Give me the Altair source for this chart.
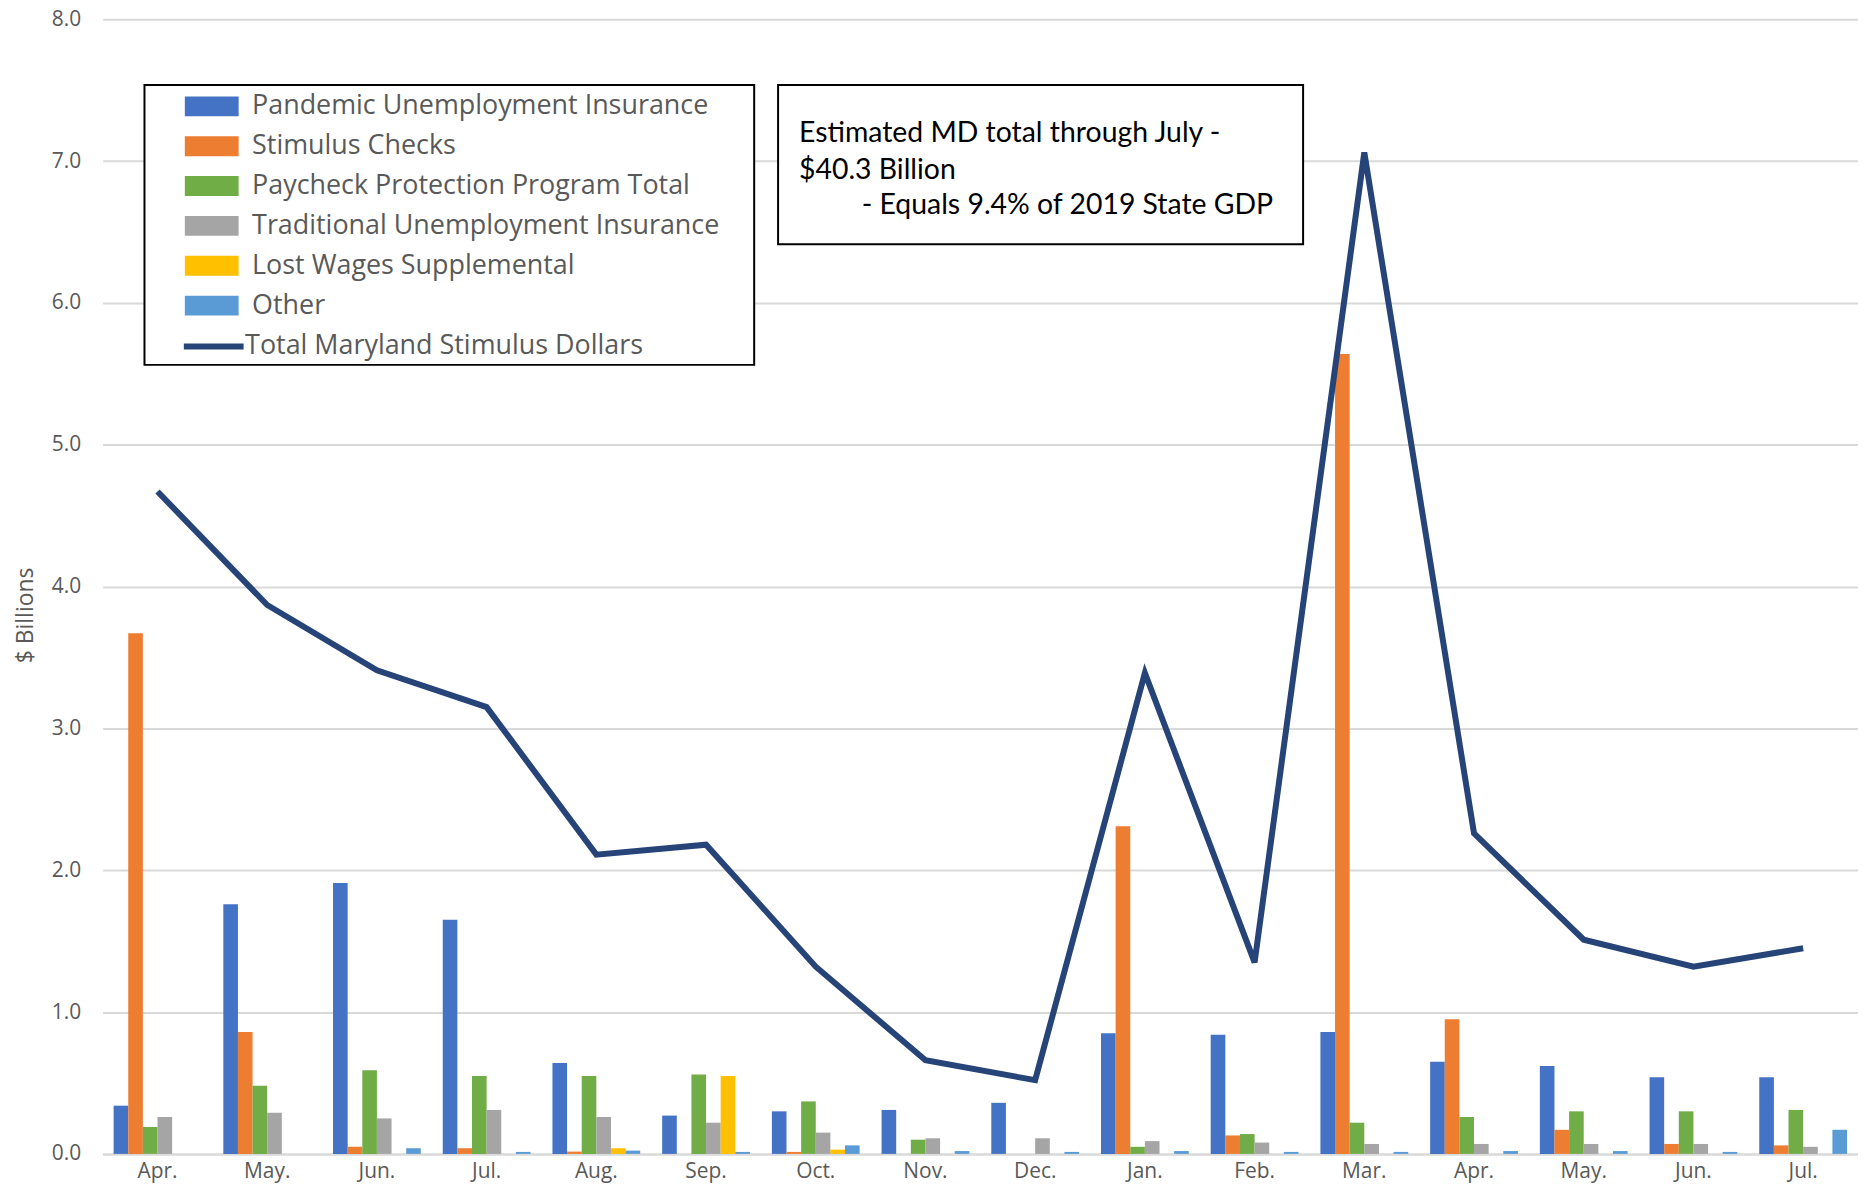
import altair as alt
import pandas as pd

months = ["Apr.", "May.", "Jun.", "Jul.", "Aug.", "Sep.", "Oct.", "Nov.", "Dec.",
          "Jan.", "Feb.", "Mar.", "Apr.", "May.", "Jun.", "Jul."]
years = [2020] * 9 + [2021] * 7

series_names = [
    "Pandemic Unemployment Insurance",
    "Stimulus Checks",
    "Paycheck Protection Program Total",
    "Traditional Unemployment Insurance",
    "Lost Wages Supplemental",
    "Other",
]
TOTAL = "Total Maryland Stimulus Dollars"

pui = [0.34, 1.76, 1.91, 1.65, 0.64, 0.27, 0.30, 0.31, 0.36, 0.85, 0.84, 0.86, 0.65, 0.62, 0.54, 0.54]
stimulus = [3.67, 0.86, 0.05, 0.04, 0.016, 0.0, 0.014, 0.0, 0.0, 2.31, 0.13, 5.64, 0.95, 0.17, 0.07, 0.06]
ppp = [0.19, 0.48, 0.59, 0.55, 0.55, 0.56, 0.37, 0.10, 0.0, 0.05, 0.14, 0.22, 0.26, 0.30, 0.30, 0.31]
tui = [0.26, 0.29, 0.25, 0.31, 0.26, 0.22, 0.15, 0.11, 0.11, 0.09, 0.08, 0.07, 0.07, 0.07, 0.07, 0.05]
lost_wages = [0, 0, 0, 0, 0.04, 0.55, 0.03, 0, 0, 0, 0, 0, 0, 0, 0, 0]
other = [0, 0, 0.04, 0.014, 0.023, 0.014, 0.06, 0.02, 0.014, 0.02, 0.014, 0.014, 0.02, 0.02, 0.014, 0.17]
total = [4.67, 3.87, 3.41, 3.15, 2.11, 2.18, 1.32, 0.66, 0.52, 3.39, 1.35, 7.06, 2.26, 1.51, 1.32, 1.45]

note_lines = ["Estimated MD total through July -", "$40.3 Billion"]
note_line3 = "- Equals 9.4% of 2019 State GDP"

bar_colors = ["#4472C4", "#ED7D31", "#70AD47", "#A5A5A5", "#FFC000", "#5B9BD5"]
line_color = "#264478"

keys = [f"{m} {y}" for m, y in zip(months, years)]
series_values = [pui, stimulus, ppp, tui, lost_wages, other]

rows = []
for name, vals in zip(series_names, series_values):
    for k, v in zip(keys, vals):
        rows.append({"key": k, "series": name, "value": v})
bars_df = pd.DataFrame(rows)
line_df = pd.DataFrame({"key": keys, "value": total, "series": [TOTAL] * len(keys)})

AXIS_FONT = "Open Sans"
GREY = "#595959"

x_enc = alt.X(
    "key:N",
    sort=keys,
    scale=alt.Scale(paddingInner=0.2, paddingOuter=0.1),
    axis=alt.Axis(
        title=None,
        labelExpr="split(datum.label, ' ')[0]",
        labelAngle=0,
        ticks=False,
        labelPadding=7,
        labelFontSize=21,
        labelFont=AXIS_FONT,
        labelColor=GREY,
        domainColor="#D9D9D9",
        domainWidth=2,
        grid=False,
    ),
)

y_scale = alt.Scale(domain=[0, 8], nice=False)
y_axis = alt.Axis(
    title="$ Billions",
    values=[0, 1, 2, 3, 4, 5, 6, 7, 8],
    format=".1f",
    ticks=False,
    domain=False,
    labelPadding=22,
    labelFontSize=21,
    labelFont=AXIS_FONT,
    labelColor=GREY,
    gridColor="#D9D9D9",
    gridWidth=2,
    titleFont=AXIS_FONT,
    titleFontSize=23,
    titleFontWeight="normal",
    titleColor=GREY,
    titleAngle=270,
    titleAlign="center",
    titleBaseline="middle",
    titleX=-77,
    titleY=598,
)

bar_legend = alt.Legend(
    title=None,
    orient="none",
    legendX=52,
    legendY=74,
    padding=0,
    rowPadding=12,
    symbolType="M-2.7,-1H2.7V1H-2.7Z",
    symbolSize=400,
    symbolOffset=44,
    symbolStrokeWidth=0,
    labelOffset=27,
    labelFontSize=27,
    labelFont=AXIS_FONT,
    labelColor=GREY,
    labelLimit=0,
)

line_legend = alt.Legend(
    title=None,
    orient="none",
    legendX=52,
    legendY=315,
    padding=0,
    symbolType="M-3,0H3",
    symbolSize=400,
    symbolOffset=46,
    symbolStrokeWidth=6,
    symbolFillColor="transparent",
    labelOffset=18,
    labelFontSize=27,
    labelFont=AXIS_FONT,
    labelColor=GREY,
    labelLimit=0,
)

bars = alt.Chart(bars_df).mark_bar().encode(
    x=x_enc,
    xOffset=alt.XOffset("series:N", sort=series_names, scale=alt.Scale(domain=series_names, paddingInner=0)),
    y=alt.Y("value:Q", scale=y_scale, axis=y_axis),
    color=alt.Color("series:N", scale=alt.Scale(domain=series_names, range=bar_colors), legend=bar_legend),
)

line = alt.Chart(line_df).mark_line(strokeWidth=6, strokeJoin="miter").encode(
    x=alt.X("key:N", sort=keys),
    y=alt.Y("value:Q", scale=y_scale),
    stroke=alt.Stroke("series:N", scale=alt.Scale(domain=[TOTAL], range=[line_color]), legend=line_legend),
)

note_df = pd.DataFrame({"a": [note_lines[0]]})
legend_box = alt.Chart(note_df).mark_rect(fill="white", stroke="black", strokeWidth=2).encode(
    x=alt.value(42), x2=alt.value(654), y=alt.value(66), y2=alt.value(347)
)
box = alt.Chart(note_df).mark_rect(fill="white", stroke="black", strokeWidth=2).encode(
    x=alt.value(678), x2=alt.value(1205), y=alt.value(66), y2=alt.value(226)
)
note1 = alt.Chart(note_df).mark_text(
    align="left", baseline="middle", font="Lato", fontSize=28.5, color="#000000",
    text=note_lines, lineHeight=37,
).encode(x=alt.value(699), y=alt.value(114))
note2 = alt.Chart(note_df).mark_text(
    align="left", baseline="middle", font="Lato", fontSize=28.5, color="#000000",
    text=note_line3,
).encode(x=alt.value(762), y=alt.value(187))

chart = alt.layer(bars, line, legend_box, box, note1, note2).properties(
    width=1762,
    height=1139,
    autosize=alt.AutoSizeParams(type="none"),
    padding={"left": 95, "top": 9, "right": 0, "bottom": 30},
).configure_view(stroke=None)

chart.save("out.html", embed_options={"renderer": "svg", "actions": False})
